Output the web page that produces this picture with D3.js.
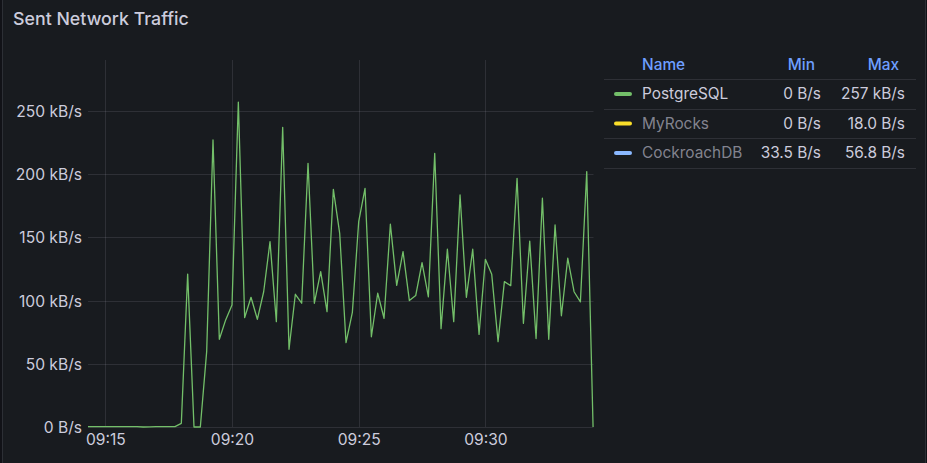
<!DOCTYPE html>
<html>
<head>
<meta charset="utf-8">
<script src="https://cdn.jsdelivr.net/npm/d3@7"></script>
<style>
  html, body { margin: 0; padding: 0; background: #111217; }
  svg { display: block; }
  text { font-family: Inter, "Noto Sans", sans-serif; }
</style>
</head>
<body>
<svg id="chart" width="927" height="463"></svg>
<script>
// ---- data ----
const title = "Sent Network Traffic";
const startTime = "09:14:15";          // first sample
const stepSeconds = 15;                // sample interval
const postgresValues = [ // kB/s
  0.3, 0.3, 0.3, 0.3, 0.3, 0.3, 0.3, 0.3, 0.3, 0.0, 0.15, 0.3, 0.3, 0.3, 0.3,
  2.9, 121, 0, 0, 59.6, 227, 69.4, 84.7, 96.5, 257, 86.5, 102.6, 85.2, 107,
  146.6, 83.3, 237, 61.5, 105, 97.9, 208.6, 97.9, 122.9, 91.2, 188, 153.2,
  66.7, 90.7, 162.4, 188.8, 71.4, 105.8, 86, 160.4, 112, 138.7, 100, 104,
  130, 103, 216.5, 77.8, 140.6, 83.3, 183.5, 102.6, 140.6, 73.3, 132.6,
  120.8, 67.5, 115, 111.8, 196.7, 82, 147, 70, 181, 69.4, 159.8, 88, 133.5,
  107, 99, 202, 0
];
const seriesNames = ["PostgreSQL", "MyRocks", "CockroachDB"];
const seriesColors = ["#73bf69", "#fade2a", "#8ab8ff"];
const seriesHidden = [false, true, true];
const seriesMin = ["0 B/s", "0 B/s", "33.5 B/s"];
const seriesMax = ["257 kB/s", "18.0 B/s", "56.8 B/s"];
const legendHeaders = ["Name", "Min", "Max"];
const yTicks = [0, 50, 100, 150, 200, 250];
const yTickLabels = ["0 B/s", "50 kB/s", "100 kB/s", "150 kB/s", "200 kB/s", "250 kB/s"];
const xTicks = ["09:15", "09:20", "09:25", "09:30"];
const xDomain = ["09:14:19", "09:34:16"];
const yMax = 290.3;

// ---- helpers ----
const parse = s => { const [h, m, sec] = s.split(":").map(Number); return new Date(2024, 0, 1, h, m, sec || 0); };
const t0 = parse(startTime);
const pgData = postgresValues.map((v, i) => ({ t: new Date(t0.getTime() + i * stepSeconds * 1000), v }));

const svg = d3.select("#chart");
const W = 927, H = 463;
const axisFont = 15.6, legendFont = 15.4;

// panel
svg.append("rect").attr("x", 2.5).attr("y", -10).attr("width", 923).attr("height", H + 20)
  .attr("fill", "#181b1f").attr("stroke", "#2c2f35").attr("stroke-width", 1);

// title
svg.append("text").attr("x", 13).attr("y", 25).attr("fill", "#ccccdc")
  .attr("font-size", 17.8).attr("font-weight", 500).text(title);

const plot = { left: 88, right: 593.5, top: 60, bottom: 427 };
const x = d3.scaleTime().domain(xDomain.map(parse)).range([plot.left, plot.right]);
const y = d3.scaleLinear().domain([0, yMax]).range([plot.bottom, plot.top]);

const gridColor = "rgba(204,204,220,0.12)";

// horizontal grid + y axis
const yAxis = d3.axisLeft(y).tickValues(yTicks).tickSize(0).tickPadding(0)
  .tickFormat((d, i) => yTickLabels[i]);
const gy = svg.append("g").attr("transform", `translate(${plot.left},0)`).call(yAxis);
gy.select(".domain").remove();
gy.selectAll("text").attr("x", -6).attr("fill", "#ccccdc").attr("font-size", axisFont)
  .attr("font-family", "Inter, sans-serif").attr("dy", "0.35em");
svg.append("g").selectAll("line").data(yTicks).join("line")
  .attr("x1", plot.left).attr("x2", plot.right)
  .attr("y1", d => Math.round(y(d)) + 0.5).attr("y2", d => Math.round(y(d)) + 0.5)
  .attr("stroke", gridColor);

// vertical grid + x axis
const xTickDates = xTicks.map(parse);
const xAxis = d3.axisBottom(x).tickValues(xTickDates).tickSize(0).tickPadding(0)
  .tickFormat((d, i) => xTicks[i]);
const gx = svg.append("g").attr("transform", `translate(0,${plot.bottom})`).call(xAxis);
gx.select(".domain").remove();
gx.selectAll("text").attr("y", 7).attr("fill", "#ccccdc").attr("font-size", axisFont)
  .attr("font-family", "Inter, sans-serif");
svg.append("g").selectAll("line").data(xTickDates).join("line")
  .attr("x1", d => Math.round(x(d)) + 0.5).attr("x2", d => Math.round(x(d)) + 0.5)
  .attr("y1", plot.top).attr("y2", plot.bottom)
  .attr("stroke", gridColor);

// clip
svg.append("clipPath").attr("id", "clip").append("rect")
  .attr("x", plot.left).attr("y", plot.top - 5)
  .attr("width", plot.right - plot.left + 1).attr("height", plot.bottom - plot.top + 10);

// line
const line = d3.line().x(d => x(d.t)).y(d => y(d.v));
svg.append("path").datum(pgData).attr("clip-path", "url(#clip)")
  .attr("d", line).attr("fill", "none").attr("stroke", seriesColors[0])
  .attr("stroke-width", 1.3).attr("stroke-linejoin", "round");

// legend table
const lg = svg.append("g");
const legLeft = 604, legRight = 916;
const headerY = 65, rowY0 = 94, rowH = 29.5;
const colNameX = 642, colMinX = 821, colMaxX = 905;
lg.append("text").attr("x", colNameX).attr("y", headerY).attr("dy", "0.35em")
  .attr("fill", "#6e9fff").attr("font-size", legendFont).attr("font-weight", 500).text(legendHeaders[0]);
lg.append("text").attr("x", colMinX - 6).attr("y", headerY).attr("dy", "0.35em").attr("text-anchor", "end")
  .attr("fill", "#6e9fff").attr("font-size", legendFont).attr("font-weight", 500).text(legendHeaders[1]);
lg.append("text").attr("x", colMaxX - 6).attr("y", headerY).attr("dy", "0.35em").attr("text-anchor", "end")
  .attr("fill", "#6e9fff").attr("font-size", legendFont).attr("font-weight", 500).text(legendHeaders[2]);

const sepYs = [0, 1, 2, 3].map(i => rowY0 - rowH / 2 + i * rowH);
lg.selectAll("line.sep").data(sepYs).join("line").attr("class", "sep")
  .attr("x1", legLeft).attr("x2", legRight)
  .attr("y1", d => Math.round(d) + 0.5).attr("y2", d => Math.round(d) + 0.5)
  .attr("stroke", "rgba(204,204,220,0.12)");

seriesNames.forEach((name, i) => {
  const cy = rowY0 + i * rowH;
  lg.append("rect").attr("x", 614).attr("y", cy - 2).attr("width", 18).attr("height", 4)
    .attr("rx", 2).attr("fill", seriesColors[i]);
  lg.append("text").attr("x", colNameX).attr("y", cy).attr("dy", "0.35em")
    .attr("fill", seriesHidden[i] ? "rgba(204,204,220,0.6)" : "#ccccdc")
    .attr("font-size", legendFont).text(name);
  lg.append("text").attr("x", colMinX).attr("y", cy).attr("dy", "0.35em").attr("text-anchor", "end")
    .attr("fill", "#ccccdc").attr("font-size", legendFont).text(seriesMin[i]);
  lg.append("text").attr("x", colMaxX).attr("y", cy).attr("dy", "0.35em").attr("text-anchor", "end")
    .attr("fill", "#ccccdc").attr("font-size", legendFont).text(seriesMax[i]);
});
</script>
</body>
</html>
